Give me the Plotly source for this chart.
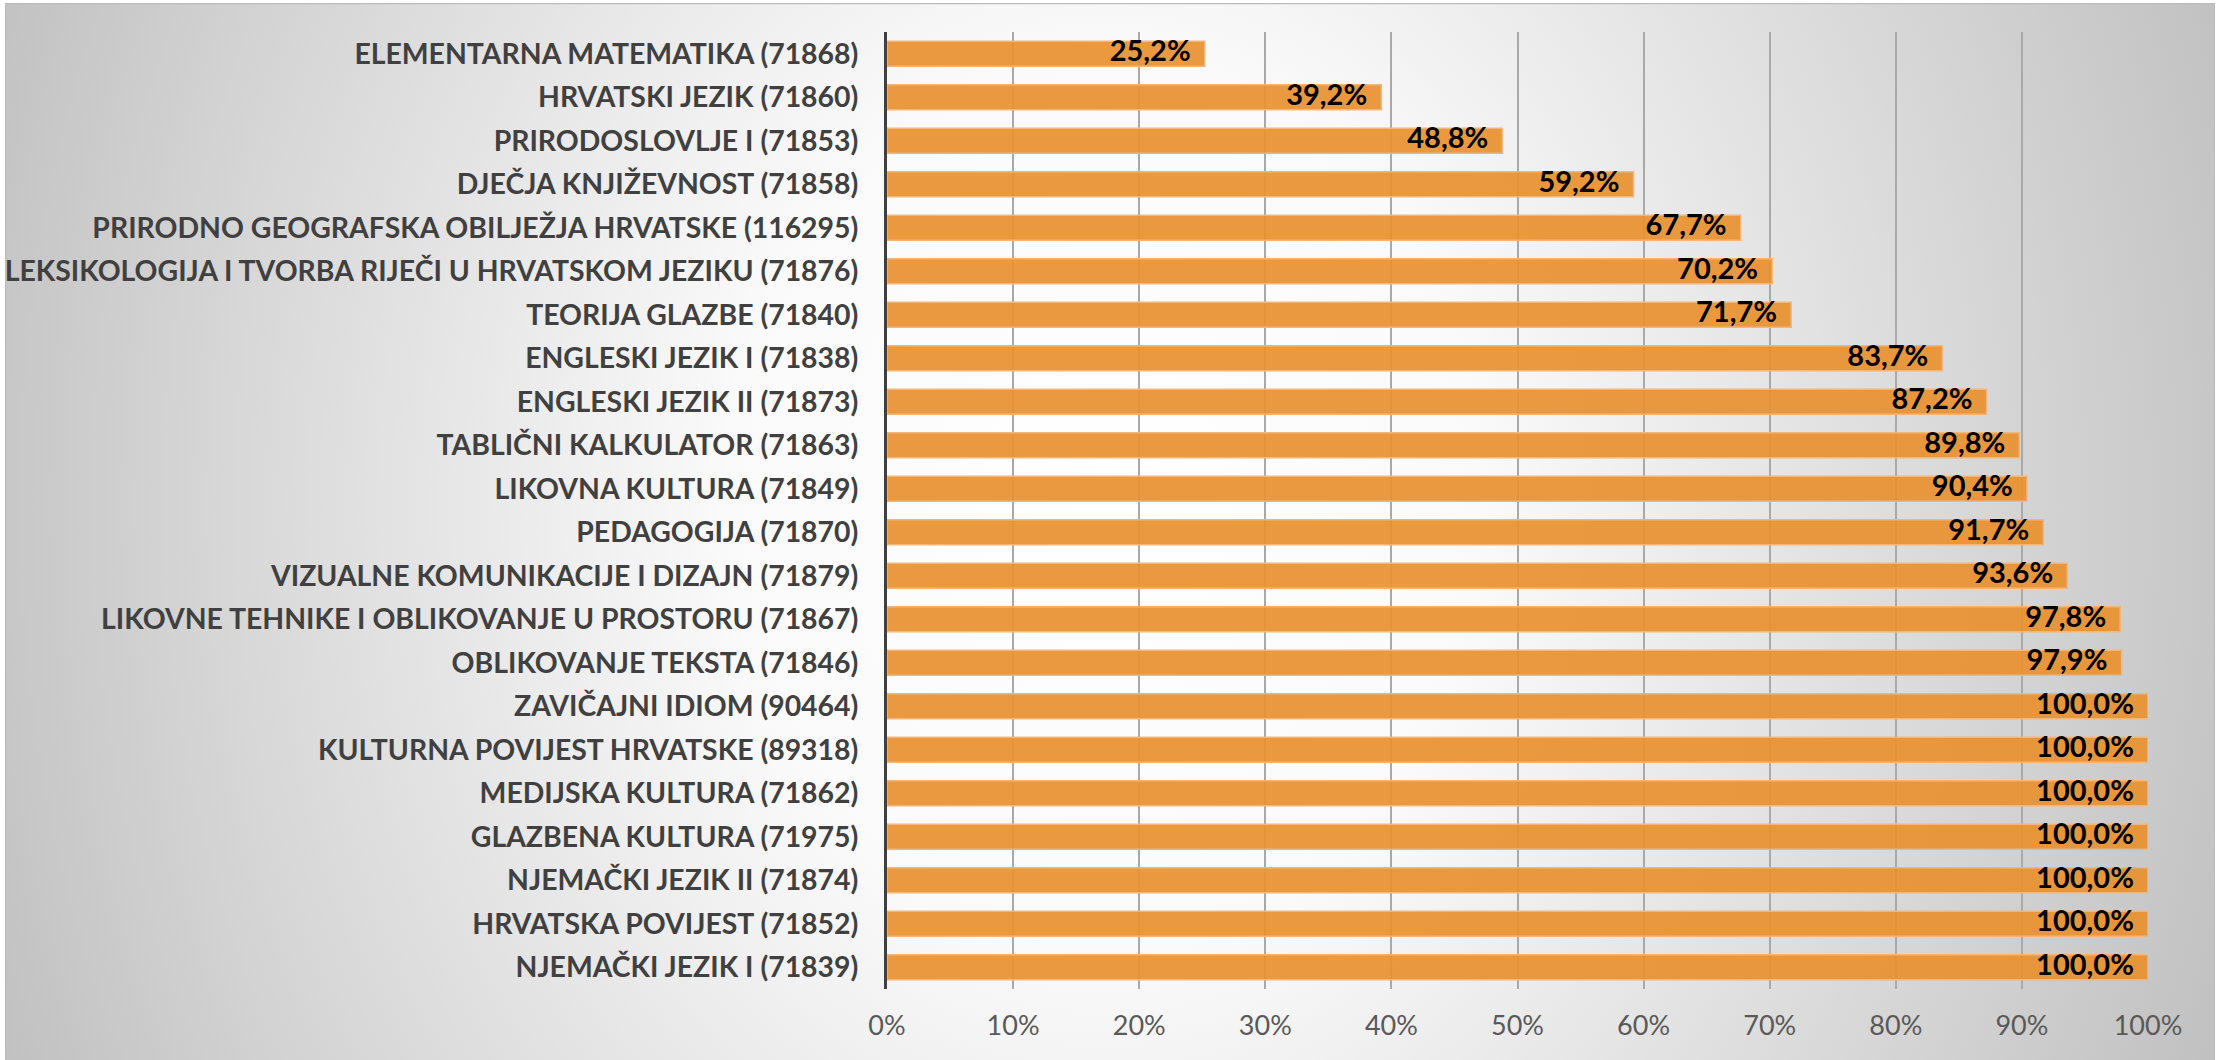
import base64
import plotly.graph_objects as go

subjects = [
    "ELEMENTARNA MATEMATIKA (71868)",
    "HRVATSKI JEZIK (71860)",
    "PRIRODOSLOVLJE I (71853)",
    "DJEČJA KNJIŽEVNOST (71858)",
    "PRIRODNO GEOGRAFSKA OBILJEŽJA HRVATSKE (116295)",
    "LEKSIKOLOGIJA I TVORBA RIJEČI U HRVATSKOM JEZIKU (71876)",
    "TEORIJA GLAZBE (71840)",
    "ENGLESKI JEZIK I (71838)",
    "ENGLESKI JEZIK II (71873)",
    "TABLIČNI KALKULATOR (71863)",
    "LIKOVNA KULTURA (71849)",
    "PEDAGOGIJA (71870)",
    "VIZUALNE KOMUNIKACIJE I DIZAJN (71879)",
    "LIKOVNE TEHNIKE I OBLIKOVANJE U PROSTORU (71867)",
    "OBLIKOVANJE TEKSTA (71846)",
    "ZAVIČAJNI IDIOM (90464)",
    "KULTURNA POVIJEST HRVATSKE (89318)",
    "MEDIJSKA KULTURA (71862)",
    "GLAZBENA KULTURA (71975)",
    "NJEMAČKI JEZIK II (71874)",
    "HRVATSKA POVIJEST (71852)",
    "NJEMAČKI JEZIK I (71839)",
]
pass_rate = [25.2, 39.2, 48.8, 59.2, 67.7, 70.2, 71.7, 83.7, 87.2, 89.8, 90.4,
             91.7, 93.6, 97.8, 97.9, 100.0, 100.0, 100.0, 100.0, 100.0, 100.0, 100.0]
tick_vals = [0, 0.1, 0.2, 0.3, 0.4, 0.5, 0.6, 0.7, 0.8, 0.9, 1.0]

W, H = 2226, 1060
L, R, T, B = 887, 78, 32, 71
pw, ph = W - L - R, H - T - B

# radial grey background like the Excel chart area
svg = (
    '<svg xmlns="http://www.w3.org/2000/svg" width="2210" height="1057">'
    '<defs><radialGradient id="g" gradientUnits="userSpaceOnUse" cx="1100" cy="500" r="1250" '
    'gradientTransform="translate(1100 500) scale(1 1.2) translate(-1100 -500)">'
    '<stop offset="0" stop-color="#ffffff"/><stop offset="0.3" stop-color="#fafafa"/>'
    '<stop offset="1" stop-color="#bdbdbd"/></radialGradient></defs>'
    '<rect x="0.5" y="0.5" width="2209" height="1060" fill="url(#g)" stroke="#bcbcbc" stroke-width="1.5"/>'
    '</svg>'
)
bg_src = "data:image/svg+xml;base64," + base64.b64encode(svg.encode()).decode()

x_frac = [v / 100 for v in pass_rate]

fig = go.Figure()
fig.add_trace(go.Bar(
    x=x_frac,
    y=subjects,
    orientation="h",
    marker=dict(color="rgba(232,145,48,0.93)", line=dict(color="#f3b67a", width=1.5)),
    hoverinfo="skip",
))
# value labels, right aligned just inside the bar end
fig.add_trace(go.Scatter(
    x=x_frac,
    y=subjects,
    mode="text",
    texttemplate="%{x:.1%}\u00a0\u00a0",
    textposition="middle left",
    textfont=dict(family="Lato", size=29, color="#000000", weight="bold"),
    hoverinfo="skip",
    cliponaxis=False,
))

fig.update_layout(
    width=W, height=H,
    margin=dict(l=L, r=R, t=T, b=B),
    paper_bgcolor="#ffffff",
    plot_bgcolor="rgba(0,0,0,0)",
    separators=",.",
    bargap=0.425,
    showlegend=False,
    images=[dict(
        source=bg_src, xref="paper", yref="paper",
        x=(5 - L) / pw, y=(H - B - 3) / ph,
        sizex=2210 / pw, sizey=1057 / ph,
        xanchor="left", yanchor="top", sizing="stretch", layer="below",
    )],
)
fig.update_xaxes(
    range=[0, 1], tickvals=tick_vals, tickformat=".0%",
    showgrid=True, gridcolor="#a9a9a9", gridwidth=1.5, zeroline=False,
    showline=False, ticklabelstandoff=18, automargin=False,
    tickfont=dict(family="Lato", size=27, color="#595959"),
)
fig.update_yaxes(
    range=[len(subjects) - 0.5, -0.5], showgrid=False, zeroline=False,
    showline=True, linecolor="#404040", linewidth=3,
    ticklabelstandoff=20, automargin=False,
    tickfont=dict(family="Lato", size=28.4, color="#404040", weight="bold"),
)

fig.write_html("out.html", config={"displayModeBar": False},
               post_script="document.body.style.margin = '0';")
